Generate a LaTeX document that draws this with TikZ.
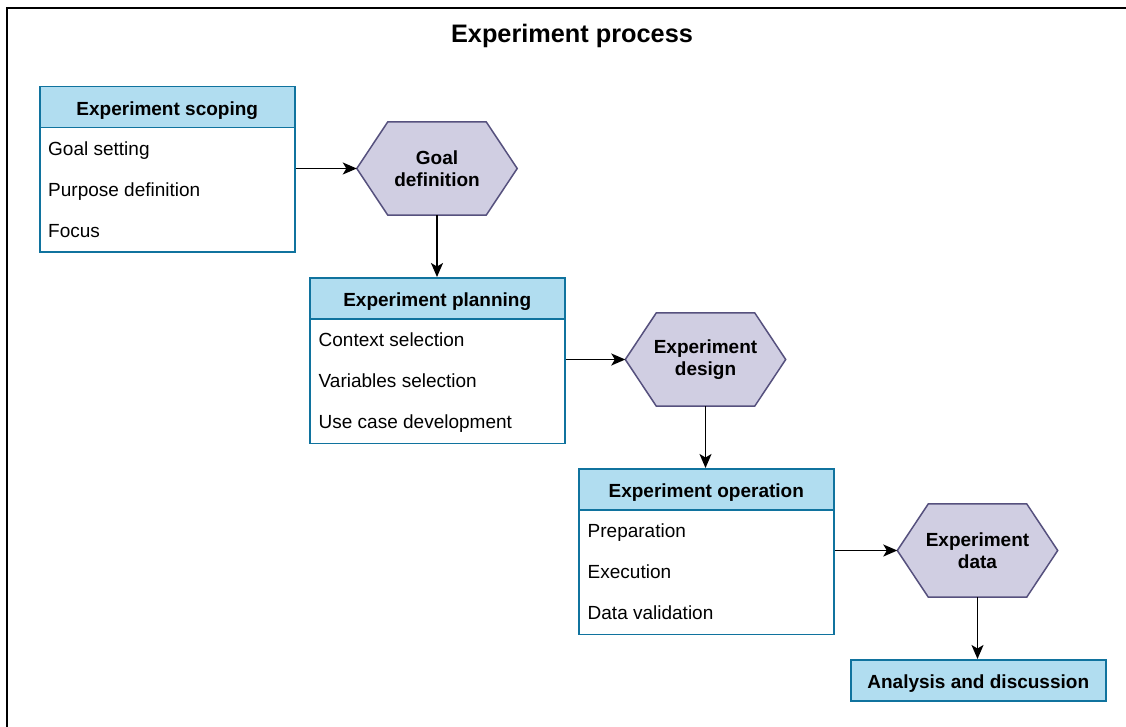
\documentclass[tikz,border=0pt]{standalone}
\usepackage{fontspec}
\setmainfont{Liberation Sans}
\usetikzlibrary{arrows.meta}
\definecolor{hdrfill}{HTML}{B1DDF0}
\definecolor{hdrline}{HTML}{10739E}
\definecolor{hexfill}{HTML}{D0CEE2}
\definecolor{hexline}{HTML}{56517E}
\pgfdeclarelayer{background}
\pgfsetlayers{background,main}
\newcommand{\hexaround}[1]{%
  \draw[hexshape] (#1.west) -- ([xshift=31pt]#1.north west) -- ([xshift=-31pt]#1.north east)
    -- (#1.east) -- ([xshift=-31pt]#1.south east) -- ([xshift=31pt]#1.south west) -- cycle;}
\begin{document}
\begin{tikzpicture}[x=1pt,y=-1pt,
  hdr/.style={draw=hdrline, fill=hdrfill, line width=1.5pt, minimum width=255pt,
    minimum height=41pt, inner sep=0pt, anchor=north west, text height=17pt, text depth=0pt,
    font=\fontsize{19}{22}\selectfont\bfseries},
  bodybox/.style={draw=hdrline, fill=white, line width=1.5pt, minimum width=255pt,
    minimum height=124.5pt, inner sep=0pt, anchor=north west},
  item/.style={anchor=base west, inner sep=0pt, font=\fontsize{19}{22}\selectfont},
  hexlbl/.style={minimum width=160pt, minimum height=93pt, inner sep=0pt, align=center,
    font=\fontsize{19}{22}\selectfont\bfseries},
  hexshape/.style={draw=hexline, fill=hexfill, line width=1.5pt, line join=miter},
  arr/.style={-{Stealth[length=14pt,width=12pt,inset=3.5pt]}, line width=1.5pt},
]
\useasboundingbox (0,0) rectangle (1126,727);
\begin{scope}
\clip (0,0) rectangle (1126,727);
% outer frame, running past the right and bottom edges
\draw[line width=2pt] (7,7.7) rectangle (1200,800);
\end{scope}

\node[anchor=base, inner sep=0pt, font=\fontsize{25.3}{29}\selectfont\bfseries] (title) at (572,42.3) {Experiment process};

% Experiment scoping
\node[hdr] (s1h) at (39,86) {Experiment scoping};
\node[bodybox] (s1b) at (39,127) {};
\node[item] (s1i1) at (48,156) {Goal setting};
\node[item] (s1i2) at (48,197) {Purpose definition};
\node[item] (s1i3) at (48,238) {Focus};

% Experiment planning
\node[hdr] (s2h) at (309,277) {Experiment planning};
\node[bodybox] (s2b) at (309,318) {};
\node[item] (s2i1) at (318.5,346) {Context selection};
\node[item] (s2i2) at (318.5,387) {Variables selection};
\node[item] (s2i3) at (318.5,428) {Use case development};

% Experiment operation
\node[hdr] (s3h) at (578,468) {Experiment operation};
\node[bodybox] (s3b) at (578,509) {};
\node[item] (s3i1) at (587.5,537) {Preparation};
\node[item] (s3i2) at (587.5,578) {Execution};
\node[item] (s3i3) at (587.5,619) {Data validation};

% Analysis and discussion
\node[hdr] (s4h) at (850,659) {Analysis and discussion};

% Hexagon outputs
\node[hexlbl] (g1) at (437,168.5) {Goal\\definition};
\node[hexlbl] (g2) at (705.5,359.5) {Experiment\\design};
\node[hexlbl] (g3) at (977.5,550.5) {Experiment\\data};
\begin{pgfonlayer}{background}
\hexaround{g1}
\hexaround{g2}
\hexaround{g3}
\end{pgfonlayer}

% Connectors
\draw[arr] (s1b.east |- g1.west) -- (g1.west);
\draw[arr] (g1.south) -- (g1.south |- s2h.north);
\draw[arr] (s2b.east |- g2.west) -- (g2.west);
\draw[arr] (g2.south) -- (g2.south |- s3h.north);
\draw[arr] (s3b.east |- g3.west) -- (g3.west);
\draw[arr] (g3.south) -- (g3.south |- s4h.north);
\end{tikzpicture}
\end{document}
